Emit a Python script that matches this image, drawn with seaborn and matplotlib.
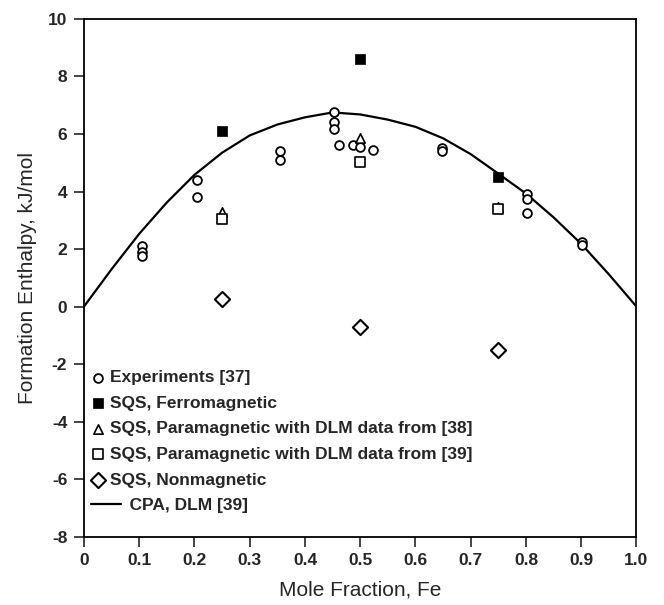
import matplotlib
matplotlib.use("Agg")
import matplotlib.pyplot as plt
import seaborn as sns
import pandas as pd
from matplotlib.lines import Line2D
from matplotlib.legend_handler import HandlerLine2D

# ---------------- data ----------------
exp_x = [0.105, 0.105, 0.105, 0.204, 0.204, 0.355, 0.355, 0.453, 0.453, 0.453,
         0.461, 0.487, 0.5, 0.523, 0.648, 0.648, 0.802, 0.802, 0.802, 0.902, 0.902]
exp_y = [2.1, 1.9, 1.75, 4.4, 3.8, 5.4, 5.1, 6.75, 6.42, 6.16,
         5.62, 5.62, 5.55, 5.46, 5.5, 5.4, 3.93, 3.75, 3.25, 2.25, 2.15]

sqs_x = [0.25, 0.5, 0.75]
ferro_y = [6.1, 8.6, 4.5]
para38_y = [3.3, 5.85, 3.45]
para39_y = [3.06, 5.03, 3.38]
nonmag_y = [0.25, -0.7, -1.5]

cpa_x = [0, 0.05, 0.1, 0.15, 0.2, 0.25, 0.3, 0.35, 0.4, 0.45, 0.5, 0.55,
         0.6, 0.65, 0.7, 0.75, 0.8, 0.85, 0.9, 0.95, 1.0]
cpa_y = [0, 1.3, 2.53, 3.62, 4.58, 5.35, 5.95, 6.33, 6.58, 6.75, 6.68, 6.5,
         6.25, 5.85, 5.3, 4.62, 3.93, 3.1, 2.18, 1.12, 0]

labels = ["Experiments [37]", "SQS, Ferromagnetic",
          "SQS, Paramagnetic with DLM data from [38]",
          "SQS, Paramagnetic with DLM data from [39]",
          "SQS, Nonmagnetic", "CPA, DLM [39]"]

x_ticks = [0, 0.1, 0.2, 0.3, 0.4, 0.5, 0.6, 0.7, 0.8, 0.9, 1.0]
x_ticklabels = ["0", "0.1", "0.2", "0.3", "0.4", "0.5", "0.6", "0.7", "0.8", "0.9", "1.0"]
y_ticks = [-8, -6, -4, -2, 0, 2, 4, 6, 8, 10]

# ---------------- style ----------------
sns.set_style("ticks")
plt.rcParams["font.family"] = ["Liberation Sans", "DejaVu Sans"]
plt.rcParams["axes.linewidth"] = 1.3
plt.rcParams["axes.unicode_minus"] = False

fig = plt.figure(figsize=(6.64, 6.05), dpi=100)
ax = fig.add_axes([0.1265, 0.1132, 0.832, 0.8554])

exp_df = pd.DataFrame({"x": exp_x, "y": exp_y})
sqs_df = pd.DataFrame({"x": sqs_x, "ferro": ferro_y, "p38": para38_y,
                       "p39": para39_y, "nm": nonmag_y})
cpa_df = pd.DataFrame({"x": cpa_x, "y": cpa_y})

sns.lineplot(data=cpa_df, x="x", y="y", ax=ax, color="black", lw=1.6,
             sort=False, estimator=None, label=labels[5], legend=False, zorder=2)

common = dict(ax=ax, legend=False, zorder=3)
sns.scatterplot(data=exp_df, x="x", y="y", marker="o", s=40, facecolor="white",
                edgecolor="black", linewidth=1.3, label=labels[0], **common)
sns.scatterplot(data=sqs_df, x="x", y="ferro", marker="s", s=55, color="black",
                edgecolor="black", linewidth=0.5, label=labels[1], **common)
sns.scatterplot(data=sqs_df, x="x", y="p38", marker="^", s=45, facecolor="white",
                edgecolor="black", linewidth=1.2, label=labels[2], **common)
sns.scatterplot(data=sqs_df, x="x", y="p39", marker="s", s=50, facecolor="white",
                edgecolor="black", linewidth=1.2, label=labels[3], **common)
sns.scatterplot(data=sqs_df, x="x", y="nm", marker="D", s=60, facecolor="white",
                edgecolor="black", linewidth=1.5, label=labels[4], **common)

ax.set_xlim(0, 1.0)
ax.set_ylim(-8, 10)
ax.set_xticks(x_ticks)
ax.set_xticklabels(x_ticklabels)
ax.set_yticks(y_ticks)
ax.tick_params(axis="both", direction="out", length=7, width=1.2,
               labelsize=12.5, pad=5)
for lab in ax.get_xticklabels() + ax.get_yticklabels():
    lab.set_fontweight("bold")
for sp in ax.spines.values():
    sp.set_visible(True)
    sp.set_color("black")

ax.set_xlabel("Mole Fraction, Fe", fontsize=15, labelpad=9)
ax.set_ylabel("Formation Enthalpy, kJ/mol", fontsize=15, labelpad=8)


class LongLine(HandlerLine2D):
    def create_artists(self, legend, orig_handle, xdescent, ydescent,
                       width, height, fontsize, trans):
        return super().create_artists(legend, orig_handle, xdescent, ydescent,
                                      width * 2.15, height, fontsize, trans)


handles, labs = ax.get_legend_handles_labels()
order = [labs.index(l) for l in labels]
handles = [handles[i] for i in order]
labs = [labels[i] if i < 5 else "    " + labels[i] for i in range(6)]
leg = ax.legend(handles, labs, loc="upper left", bbox_to_anchor=(0.0, 0.335),
                frameon=False, handlelength=0.8, handletextpad=0.3,
                labelspacing=0.6, borderaxespad=0.2, fontsize=12.5,
                handler_map={Line2D: LongLine()}, borderpad=0.2)
for t in leg.get_texts():
    t.set_fontweight("bold")

fig.savefig("out.png", dpi=100)
